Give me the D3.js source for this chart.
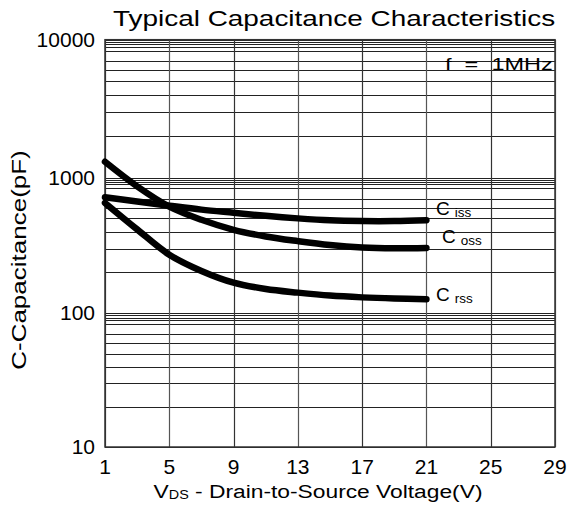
<!DOCTYPE html>
<html>
<head>
<meta charset="utf-8">
<script src="https://cdn.jsdelivr.net/npm/d3@7/dist/d3.min.js"></script>
<style>
  html, body { margin: 0; padding: 0; background: #fff; }
  svg { display: block; font-family: "Liberation Sans", Arial, sans-serif; }
</style>
</head>
<body>
<script>
// Drain-source voltage sample points (V)
const voltage = [1, 3, 5, 7, 9, 11, 13, 15, 17, 19, 21];
// Capacitances in pF
const ciss = [715, 665, 620, 580, 550, 522, 500, 484, 478, 478, 485];
const coss = [1300, 860, 610, 488, 412, 368, 340, 318, 305, 301, 303];
const crss = [650, 415, 270, 205, 168, 151, 142, 135, 131, 128.5, 127];

const xTicks = [1, 5, 9, 13, 17, 21, 25, 29];
const yTicks = [10, 100, 1000, 10000];
const minorSteps = [2, 3, 4, 5, 6, 7, 8.3, 8.9, 9.3, 9.65];

const series = [
  { name: "C", sub: "iss", values: ciss },
  { name: "C", sub: "oss", values: coss },
  { name: "C", sub: "rss", values: crss }
];

const W = 572, H = 506;
const plotL = 105, plotR = 555, plotT = 39.7, plotB = 447;

const svg = d3.select("body").append("svg").attr("width", W).attr("height", H);
svg.append("rect").attr("width", W).attr("height", H).attr("fill", "#fff");

const x = d3.scaleLinear().domain([1, 29]).range([plotL, plotR]);
const y = d3.scaleLog().domain([10, 100, 1000, 10000]).range([plotB, 313.3, 177.5, plotT]);

// grid
const grid = svg.append("g");
const hVals = [];
[10, 100, 1000].forEach(d => minorSteps.forEach(m => hVals.push(d * m)));
grid.selectAll("line.h").data(hVals.concat(yTicks)).join("line")
  .attr("x1", plotL).attr("x2", plotR)
  .attr("y1", d => Math.round(y(d)) + 0.5).attr("y2", d => Math.round(y(d)) + 0.5)
  .attr("stroke", "#222").attr("stroke-width", 1);
grid.selectAll("line.v").data(xTicks).join("line")
  .attr("y1", plotT).attr("y2", plotB)
  .attr("x1", d => Math.round(x(d)) + 0.5).attr("x2", d => Math.round(x(d)) + 0.5)
  .attr("stroke", (d, i) => i % 2 ? "#555" : "#333").attr("stroke-width", 1.2);

// frame
svg.append("rect")
  .attr("x", plotL).attr("y", plotT).attr("width", plotR - plotL).attr("height", plotB - plotT)
  .attr("fill", "none").attr("stroke", "#333").attr("stroke-width", 1.5);

// tick labels
svg.append("g").selectAll("text").data(xTicks).join("text")
  .attr("x", d => x(d)).attr("y", 474)
  .attr("text-anchor", "middle").attr("font-size", 21).attr("fill", "#000")
  .text(d => d);
svg.append("g").selectAll("text").data(yTicks).join("text")
  .attr("x", 95).attr("y", d => y(d) + 7)
  .attr("text-anchor", "end").attr("font-size", 21).attr("fill", "#000")
  .text(d => d);

// curves
const line = d3.line().x((d, i) => x(voltage[i])).y(d => y(d)).curve(d3.curveCatmullRom.alpha(0.5));
svg.append("g").selectAll("path").data(series).join("path")
  .attr("d", d => line(d.values))
  .attr("fill", "none").attr("stroke", "#000").attr("stroke-width", 6.5)
  .attr("stroke-linecap", "round").attr("stroke-linejoin", "round");

// series labels
const labelPos = [
  { lx: 436, ly: 215 },
  { lx: 442, ly: 243 },
  { lx: 436, ly: 301 }
];
series.forEach((s, i) => {
  const t = svg.append("text")
    .attr("x", labelPos[i].lx).attr("y", labelPos[i].ly)
    .attr("font-size", 19).attr("fill", "#000");
  t.append("tspan").text(s.name);
  t.append("tspan").attr("font-size", 13.5).attr("dx", 5).attr("dy", 2).text(s.sub);
});

// annotation (horizontally widened)
svg.append("text").attr("transform", "translate(445,70) scale(1.47,1)")
  .attr("font-size", 16).attr("fill", "#000")
  .attr("xml:space", "preserve").style("white-space", "pre")
  .text("f  =  1MHz");

// title (horizontally widened)
svg.append("text").attr("transform", "translate(113,26) scale(1.27,1)")
  .attr("font-size", 22).attr("fill", "#000")
  .text("Typical Capacitance Characteristics");

// x axis title, widened horizontally
const xt = svg.append("text")
  .attr("transform", "translate(318,498) scale(1.2,1)")
  .attr("text-anchor", "middle").attr("font-size", 19).attr("fill", "#000");
xt.append("tspan").text("V");
xt.append("tspan").attr("font-size", 12).attr("dy", 1).text("DS");
xt.append("tspan").attr("dy", -1).text(" - Drain-to-Source Voltage(V)");

// y axis title
svg.append("text")
  .attr("transform", "translate(26,260) rotate(-90) scale(1.3,1)")
  .attr("text-anchor", "middle").attr("font-size", 20).attr("fill", "#000")
  .text("C-Capacitance(pF)");
</script>
</body>
</html>
